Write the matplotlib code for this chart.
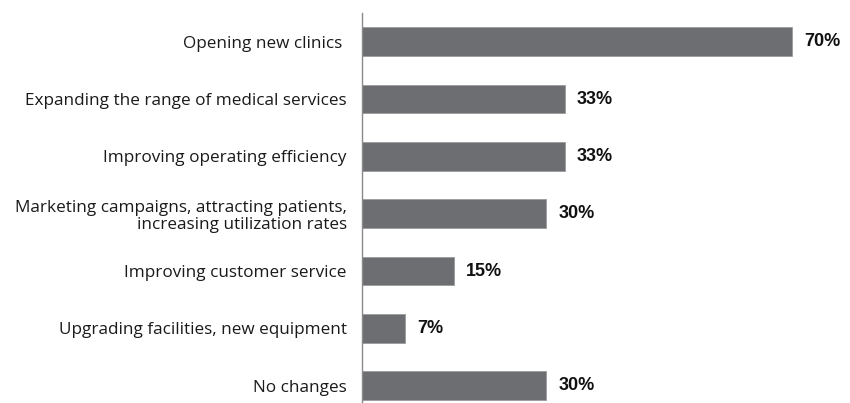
import matplotlib
matplotlib.use("Agg")
import matplotlib.pyplot as plt

categories = [
    "Opening new clinics ",
    "Expanding the range of medical services",
    "Improving operating efficiency",
    "Marketing campaigns, attracting patients,\nincreasing utilization rates",
    "Improving customer service",
    "Upgrading facilities, new equipment",
    "No changes",
]
values = [70, 33, 33, 30, 15, 7, 30]
value_labels = ["70%", "33%", "33%", "30%", "15%", "7%", "30%"]

bar_color = "#6d6e71"
axis_color = "#8a8a8a"

W, H = 850, 403
fig = plt.figure(figsize=(W / 100, H / 100), dpi=100)
ax = fig.add_axes([362 / W, 0, 1 - 362 / W, (H - 13) / H])

y = list(range(len(categories)))
ax.barh(y, values, height=0.5, color=bar_color, edgecolor="#9a9b9d", linewidth=0.6)

ax.set_xlim(0, 79.4)
ax.set_ylim(6.3, -0.5)

for spine in ["top", "right", "bottom"]:
    ax.spines[spine].set_visible(False)
ax.spines["left"].set_color(axis_color)
ax.spines["left"].set_linewidth(1.0)

ax.set_xticks([])
ax.set_yticks(y)
ax.set_yticklabels(categories, fontsize=12.3, family="Open Sans", color="#1a1a1a",
                   linespacing=1.1)
ax.tick_params(axis="y", length=0, pad=11)

for yi, v, lab in zip(y, values, value_labels):
    ax.annotate(lab, xy=(v, yi), xytext=(8.5, 0), textcoords="offset points",
                va="center", ha="left", fontsize=13, fontweight="bold",
                family="Liberation Sans", color="#111111")

fig.savefig("out.png", dpi=100)
